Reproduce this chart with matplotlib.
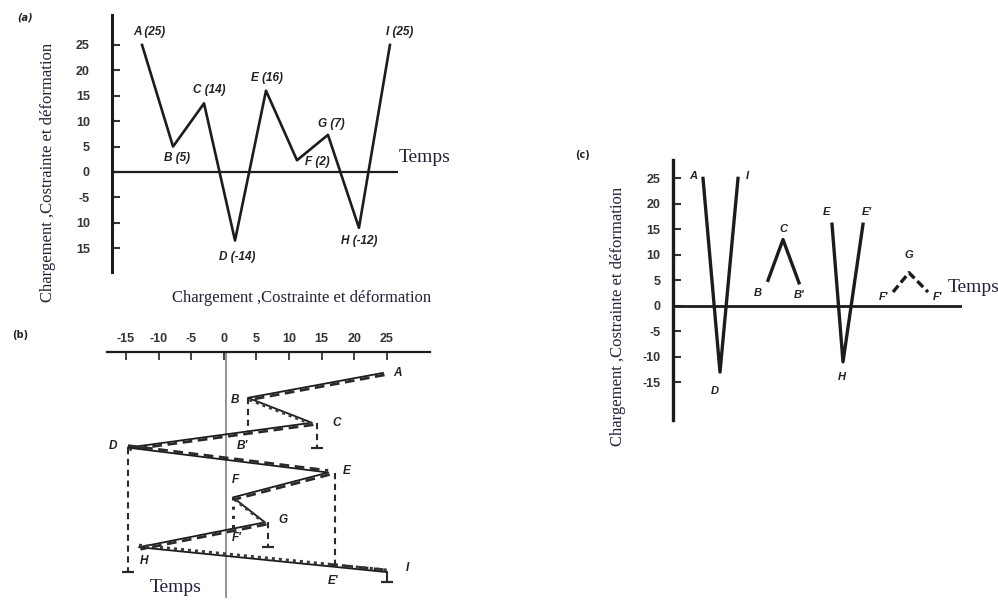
import matplotlib
matplotlib.use('Agg')
import matplotlib.pyplot as plt
from matplotlib.transforms import offset_copy

W, H = 998, 601
fig = plt.figure(figsize=(W / 100, H / 100), dpi=100)

# ---------------- data ----------------
point_names = ['A', 'B', 'C', 'D', 'E', 'F', 'G', 'H', 'I']
a_labels = ['A (25)', 'B (5)', 'C (14)', 'D (-14)', 'E (16)', 'F (2)', 'G (7)', 'H (-12)', 'I (25)']
a_values = [25, 5, 13.5, -13.5, 16, 2.3, 7.3, -11, 25]
time_steps = [0, 1, 2, 3, 4, 5, 6, 7, 8]
a_ticks = [25, 20, 15, 10, 5, 0, -5, -10, -15]
a_ticklabels = ['25', '20', '15', '10', '5', '0', '-5', '10', '15']

b_values = [24.4, 3.7, 13.5, -14.7, 16, 1.4, 6.3, -13, 25]
b_ticks = [-15, -10, -5, 0, 5, 10, 15, 20, 25]
b_drip_end_C = 3.0
b_drip_end_D = 8.0
b_drip_end_G = 7.0
b_drip_end_I = 8.4

c_ticks = [25, 20, 15, 10, 5, 0, -5, -10, -15]
c_AI_time = [3.0, 4.7, 6.5]
c_AI_values = [25, -13, 25]
c_BC_time = [9.5, 11.0, 12.6]
c_BC_values = [5, 13, 4.5]
c_EH_time = [15.9, 17.0, 19.0]
c_EH_values = [16, -11, 16]
c_FG_time = [22.0, 23.6, 25.5]
c_FG_values = [2.7, 6.5, 2.7]

ylabel_text = 'Chargement ,Costrainte et déformation'
time_text = 'Temps'

INK = '#1c1c1c'
TXT = '#22223a'
SERIF = ['Liberation Serif', 'DejaVu Serif']
SANS = ['Liberation Sans', 'DejaVu Sans']


def rect(l, t, r, b):
    return [l / W, 1 - b / H, (r - l) / W, (b - t) / H]


def fpos(x, y):
    return x / W, 1 - y / H


lab_kw = dict(fontsize=8.5, fontstyle='italic', fontweight='bold', family=SANS,
              color='#222222', ha='center', va='center', textcoords='offset pixels')

# ---------------- panel (a) ----------------
axa = fig.add_axes(rect(112, 15, 398, 272))
axa.set_xlim(-0.97, 8.26)
axa.set_ylim(-19.7, 30.9)
for s in ['top', 'right', 'bottom']:
    axa.spines[s].set_visible(False)
axa.spines['left'].set_linewidth(2.2)
axa.spines['left'].set_color(INK)
axa.set_xticks([])
axa.set_yticks(a_ticks)
axa.set_yticklabels(a_ticklabels)
axa.tick_params(axis='y', direction='in', length=6, width=1.5, pad=16, labelsize=9,
                colors='#333333')
for t in axa.get_yticklabels():
    t.set_fontweight('bold')
    t.set_family(SANS)
axa.axhline(0, color=INK, lw=1.6)
axa.plot(time_steps, a_values, color=INK, lw=1.9)
a_off = [(7, 13), (4, -11), (5, 13), (2, -16), (1, 13), (20, -2), (3, 11), (0, -13), (10, 13)]
for t, v, lab, off in zip(time_steps, a_values, a_labels, a_off):
    axa.annotate(lab, (t, v), xytext=off, **lab_kw)

fig.text(*fpos(25, 17), '(a)', fontsize=7, fontstyle='italic', fontweight='bold',
         ha='center', va='center', color='#222222')
fig.text(*fpos(48, 172), ylabel_text, rotation=90, fontsize=12, family=SERIF, color=TXT,
         ha='center', va='center')
fig.text(*fpos(425, 158), time_text, fontsize=14, family=SERIF, color=TXT, ha='center', va='center')
fig.text(*fpos(302, 298), ylabel_text, fontsize=12, family=SERIF, color=TXT, ha='center', va='center')

# ---------------- panel (b) ----------------
axb = fig.add_axes(rect(107, 352, 430, 598))
axb.set_xlim(-17.9, 31.6)
axb.set_ylim(9.04, -0.84)
for s in ['bottom', 'right', 'left']:
    axb.spines[s].set_visible(False)
axb.spines['top'].set_linewidth(1.6)
axb.spines['top'].set_color(INK)
axb.xaxis.tick_top()
axb.set_xticks(b_ticks)
axb.set_xticklabels([str(v) for v in b_ticks])
axb.set_yticks([])
axb.tick_params(axis='x', direction='in', length=6, width=1.3, pad=5, labelsize=9, colors='#333333')
for t in axb.get_xticklabels():
    t.set_fontweight('bold')
    t.set_family(SANS)
axb.axvline(0.3, color='#8a8a8a', lw=1.3)
axb.plot(b_values, time_steps, color=INK, lw=1.3)


def cross_time(i, v):
    v0, v1 = b_values[i], b_values[i + 1]
    return time_steps[i] + (v - v0) / (v1 - v0) * (time_steps[i + 1] - time_steps[i])


tB2 = cross_time(2, b_values[1])   # B' on C-D
tF2 = cross_time(6, b_values[5])   # F' on G-H
tE2 = cross_time(7, b_values[4])   # E' on H-I

dash_kw = dict(color='#2a2a2a', lw=2.0, ls=(0, (3.5, 2)))
dot_kw = dict(color='#3a3a3a', lw=2.2, ls=(0, (1, 1.3)))
offd = offset_copy(axb.transData, fig=fig, x=1.5, y=-2.0, units='dots')
offu = offset_copy(axb.transData, fig=fig, x=0, y=2.0, units='dots')


def seg(i, j):
    return b_values[i:j + 1], time_steps[i:j + 1]


axb.plot(*seg(0, 1), transform=offd, **dash_kw)
axb.plot(*seg(2, 3), transform=offd, **dash_kw)
axb.plot(*seg(3, 4), transform=offu, **dash_kw)
axb.plot(*seg(4, 5), transform=offd, **dash_kw)
axb.plot(*seg(6, 7), transform=offd, **dash_kw)
axb.plot([b_values[4], b_values[8]], [tE2, time_steps[8]], transform=offu, **dash_kw)
axb.plot(*seg(1, 2), transform=offd, **dot_kw)
axb.plot(*seg(5, 6), transform=offd, **dot_kw)
axb.plot(*seg(7, 8), transform=offu, **dot_kw)

# drips
drip_kw = dict(color='#2a2a2a', lw=1.5, ls=(0, (3, 2.2)))
axb.plot([b_values[1]] * 2, [time_steps[1], tB2], **drip_kw)
axb.plot([b_values[2] + 0.8] * 2, [time_steps[2], b_drip_end_C], **drip_kw)
axb.plot([b_values[3]] * 2, [time_steps[3], b_drip_end_D], **drip_kw)
axb.plot([b_values[4] + 1.0] * 2, [time_steps[4], tE2], **drip_kw)
axb.plot([b_values[5]] * 2, [time_steps[5], tF2], color='#2a2a2a', lw=2.2, ls=(0, (1, 2)))
axb.plot([b_values[6] + 0.5] * 2, [time_steps[6], b_drip_end_G], **drip_kw)
axb.plot([b_values[8]] * 2, [time_steps[8], b_drip_end_I], color='#2a2a2a', lw=1.5)
for v, t in [(b_values[2] + 0.8, b_drip_end_C), (b_values[3], b_drip_end_D),
             (b_values[6] + 0.5, b_drip_end_G), (b_values[8], b_drip_end_I)]:
    axb.plot([v], [t], marker='_', ms=9, mew=1.6, color='#2a2a2a')

b_lab_kw = dict(lab_kw)
b_off = [(14, 0), (-13, -2), (25, 0), (-15, 2), (19, 2), (2, 17), (18, 2), (5, -14), (20, 4)]
for t, v, lab, off in zip(time_steps, b_values, point_names, b_off):
    axb.annotate(lab, (v, t), xytext=off, **b_lab_kw)
axb.annotate("B'", (b_values[1], tB2), xytext=(-6, -15), **b_lab_kw)
axb.annotate("F'", (b_values[5], tF2), xytext=(4, -9), **b_lab_kw)
axb.annotate("E'", (b_values[4], tE2), xytext=(5, -15), **b_lab_kw)

fig.text(*fpos(20, 335), '(b)', fontsize=7, fontweight='bold', ha='center', va='center',
         color='#222222')
fig.text(*fpos(176, 587), time_text, fontsize=14, family=SERIF, color=TXT, ha='center', va='center')

# ---------------- panel (c) ----------------
axc = fig.add_axes(rect(673, 160, 962, 420))
axc.set_xlim(0, 28.9)
axc.set_ylim(-22.4, 28.6)
for s in ['top', 'right', 'bottom']:
    axc.spines[s].set_visible(False)
axc.spines['left'].set_linewidth(2.4)
axc.spines['left'].set_color(INK)
axc.set_xticks([])
axc.set_yticks(c_ticks)
axc.set_yticklabels([str(v) for v in c_ticks])
axc.tick_params(axis='y', direction='in', length=6, width=1.5, pad=9, labelsize=9, colors='#333333')
for t in axc.get_yticklabels():
    t.set_fontweight('bold')
    t.set_family(SANS)
axc.axhline(0, color=INK, lw=2.0)
axc.plot(c_AI_time, c_AI_values, color=INK, lw=2.4)
axc.plot(c_BC_time, c_BC_values, color=INK, lw=2.4)
axc.plot(c_EH_time, c_EH_values, color=INK, lw=2.4)
axc.plot(c_FG_time, c_FG_values, color=INK, lw=2.4, ls=(0, (2.5, 1.2)))

c_lab_kw = dict(lab_kw)
c_lab_kw['fontsize'] = 8
for (tt, vv, names, offs) in [
        (c_AI_time, c_AI_values, ['A', 'D', 'I'], [(-10, 2), (-5, -19), (9, 2)]),
        (c_BC_time, c_BC_values, ['B', 'C', "B'"], [(-10, -13), (0, 11), (0, -12)]),
        (c_EH_time, c_EH_values, ['E', 'H', "E'"], [(-6, 12), (-1, -15), (4, 12)]),
        (c_FG_time, c_FG_values, ["F'", 'G', "F'"], [(-10, -5), (0, 18), (9, -5)])]:
    for t, v, n, o in zip(tt, vv, names, offs):
        axc.annotate(n, (t, v), xytext=o, **c_lab_kw)

fig.text(*fpos(583, 155), '(c)', fontsize=7, fontweight='bold', ha='center', va='center',
         color='#222222')
fig.text(*fpos(618, 316), ylabel_text, rotation=90, fontsize=12, family=SERIF, color=TXT,
         ha='center', va='center')
fig.text(*fpos(948, 287), time_text, fontsize=14, family=SERIF, color=TXT, ha='left', va='center')

fig.savefig('out.png', dpi=100)
